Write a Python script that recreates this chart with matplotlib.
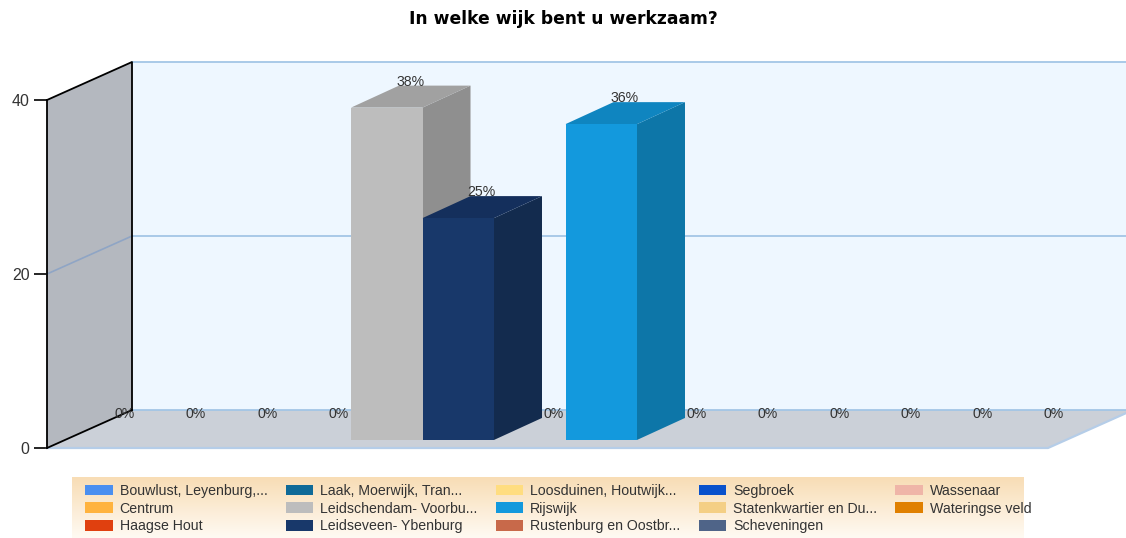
import matplotlib
matplotlib.use('Agg')
import matplotlib.pyplot as plt
import numpy as np
from matplotlib.patches import Patch, Polygon

plt.rcParams['font.family'] = ['Liberation Sans', 'DejaVu Sans']

wijken = ['Bouwlust, Leyenburg,...', 'Centrum', 'Haagse Hout',
          'Laak, Moerwijk, Tran...', 'Leidschendam- Voorbu...', 'Leidseveen- Ybenburg',
          'Loosduinen, Houtwijk...', 'Rijswijk', 'Rustenburg en Oostbr...',
          'Segbroek', 'Statenkwartier en Du...', 'Scheveningen',
          'Wassenaar', 'Wateringse veld']
waarden = [0, 0, 0, 0, 38.2, 25.5, 0, 36.3, 0, 0, 0, 0, 0, 0]
labels = ['0%', '0%', '0%', '0%', '38%', '25%', '0%', '36%', '0%', '0%', '0%', '0%', '0%', '0%']
kleuren = ['#4A8FF0', '#FFB33E', '#E0400F', '#0F6A98', '#BDBDBD', '#18386A', '#FFDD80',
           '#1399DD', '#C8694A', '#0A52CC', '#F4CF85', '#4F6488', '#EFB5A8', '#E08000']
# (boven, zijkant) voor de balken die zichtbaar zijn
schaduw = {4: ('#A1A1A1', '#8F8F8F'), 5: ('#142F5C', '#132B4E'), 7: ('#0F85C0', '#0D76A8')}
yticks = [0, 40, 20]

W, H = 1126, 538
px_x, px_y = 71.5, 8.7  # pixels per categorie / per eenheid
fig = plt.figure(figsize=(W / 100, H / 100), dpi=100)
ax = fig.add_axes([0, 0, 1, 1], facecolor='none')
ax.set_xlim(-47 / px_x, (W - 47) / px_x)
ax.set_ylim(-(H - 448) / px_y, 448 / px_y)

n = len(wijken)
dx, dy = 85 / px_x, 38 / px_y  # diepte van de vloer
ymax = 40

# wanden en vloer
ax.add_patch(Polygon([(dx, dy), (n + dx, dy), (n + dx, ymax + dy), (dx, ymax + dy)],
                     fc='#EEF7FF', ec='none', zorder=1))
ax.add_patch(Polygon([(0, 0), (dx, dy), (dx, ymax + dy), (0, ymax)],
                     fc='#B4B8BF', ec='none', zorder=1))
ax.add_patch(Polygon([(0, 0), (n, 0), (n + dx, dy), (dx, dy)],
                     fc='#CBD0D8', ec='none', zorder=1))
ax.plot([0, n, n + dx], [0, 0, dy], color='#B5CDE8', lw=1.6, zorder=2)
for t in [0, 20, 40]:
    ax.plot([dx, n + dx], [t + dy, t + dy], color='#A3C6E6', lw=1.3, zorder=2)
ax.plot([0, dx], [20, 20 + dy], color='#8FA5C5', lw=1.2, zorder=2)
ax.plot([0, dx, dx], [ymax, ymax + dy, dy], color='black', lw=1.3, zorder=3)
ax.plot([0, dx], [0, dy], color='black', lw=1.3, zorder=3)

# balken
start, diepte = 18 / 85, 48 / 85  # fractie van de vloerdiepte
bx, by = start * dx, start * dy
ddx, ddy = diepte * dx, 22 / px_y
breedte = 1.0
for i, (v, k) in enumerate(zip(waarden, kleuren)):
    x0 = i + bx
    x1 = x0 + breedte
    if v > 0:
        boven, zij = schaduw[i]
        ax.add_patch(Polygon([(x1, by), (x1 + ddx, by + ddy), (x1 + ddx, by + v + ddy), (x1, by + v)],
                             fc=zij, ec='none', zorder=4 + i))
        ax.add_patch(Polygon([(x0, by + v), (x1, by + v), (x1 + ddx, by + v + ddy), (x0 + ddx, by + v + ddy)],
                             fc=boven, ec='none', zorder=4 + i))
        ax.bar(x0, v, width=breedte, bottom=by, align='edge', color=k, zorder=4 + i)
for i, (v, lab) in enumerate(zip(waarden, labels)):
    ax.text(i + bx + (breedte + ddx) / 2 - 0.5 / px_x, by + v + ddy / 2 + 15 / px_y, lab,
            ha='center', va='center', fontsize=10.2, color='#333333', zorder=30)

# y-as
ax.spines[['top', 'right', 'bottom']].set_visible(False)
ax.spines['left'].set_position(('data', 0))
ax.spines['left'].set_bounds(0, ymax)
ax.spines['left'].set_linewidth(1.3)
ax.set_yticks(yticks)
ax.set_xticks([])
ax.tick_params(axis='y', length=9.5, width=1.2, pad=3, labelsize=11.5, labelcolor='#333333')

fig.text(563 / W, 1 - 19 / H, 'In welke wijk bent u werkzaam?', ha='center', va='center',
         fontsize=12.3, fontweight='bold', family='DejaVu Sans', color='black')

# legenda met verloop
lax = fig.add_axes([72 / W, 0, (1024 - 72) / W, (H - 477) / H], zorder=5)
verloop = np.linspace(0, 1, 64)[:, None, None]
c0 = np.array(matplotlib.colors.to_rgb('#F8DDB5'))
c1 = np.array(matplotlib.colors.to_rgb('#FFFAF3'))
lax.imshow(c0 + (c1 - c0) * verloop, aspect='auto', extent=(0, 1, 0, 1))
lax.axis('off')
handles = [Patch(fc=k, ec='none') for k in kleuren]
lax.legend(handles, wijken, ncols=5, loc='upper left', bbox_to_anchor=(13 / 952, 1 - 7 / 61),
           frameon=False, fontsize=10.2, handlelength=1.96, handleheight=0.78,
           handletextpad=0.49, columnspacing=1.27, labelspacing=0.26,
           borderpad=0, borderaxespad=0, labelcolor='#333333')

plt.savefig('out.png', dpi=100)
